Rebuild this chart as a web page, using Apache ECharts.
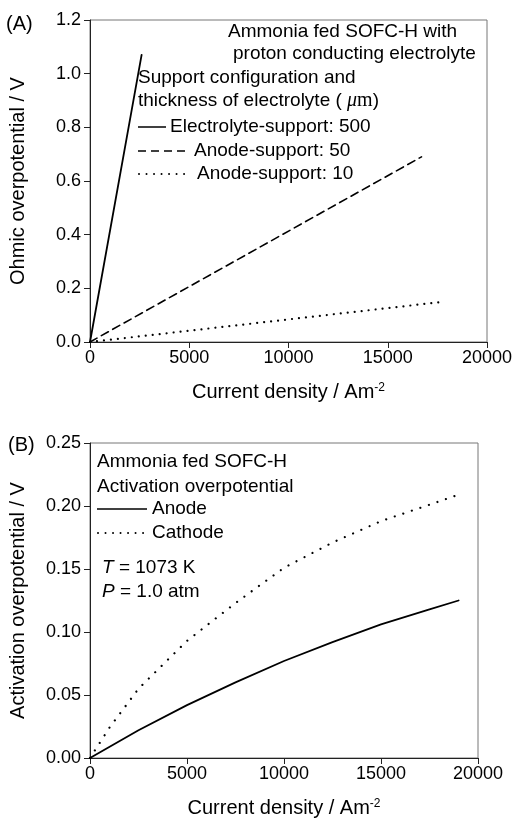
<!DOCTYPE html>
<html>
<head>
<meta charset="utf-8">
<script src="https://cdn.jsdelivr.net/npm/echarts@6/dist/echarts.min.js"></script>
<style>
  html, body { margin: 0; padding: 0; background: #fff; }
  #chart { width: 516px; height: 822px; }
</style>
</head>
<body>
<div id="chart"></div>
<script>
// panel A: ohmic overpotential, straight lines from origin
const ohmicElectrolyte500 = [[0, 0], [2600, 1.07]];
const ohmicAnode50 = [[0, 0], [16700, 0.69]];
const ohmicAnode10 = [[0, 0], [17800, 0.15]];

// panel B: activation overpotential
const actAnode = [[0, 0], [2500, 0.022], [5000, 0.042], [7500, 0.060], [10000, 0.077],
  [12500, 0.092], [15000, 0.106], [17500, 0.118], [19000, 0.125]];
const actCathode = [[0, 0], [1000, 0.024], [2500, 0.055], [5000, 0.093], [7500, 0.123],
  [10000, 0.151], [12500, 0.171], [15000, 0.188], [17500, 0.201], [19000, 0.209]];

const xTicks = [0, 5000, 10000, 15000, 20000];
const yTicksA = [0, 0.2, 0.4, 0.6, 0.8, 1.0, 1.2];
const yTicksB = [0, 0.05, 0.1, 0.15, 0.2, 0.25];

const FONT = 'Liberation Sans, Arial, sans-serif';
const AXIS_COLOR = '#222';
const DOTS = [0.01, 7.5];

const chart = echarts.init(document.getElementById('chart'));

function xAxis(gridIndex) {
  return {
    type: 'value', gridIndex: gridIndex,
    min: xTicks[0], max: xTicks[xTicks.length - 1], interval: xTicks[1] - xTicks[0],
    name: 'Current density / Am{sup|-2}',
    nameLocation: 'middle', nameGap: 40,
    nameTextStyle: {
      fontFamily: FONT, fontSize: 20, color: '#000',
      rich: { sup: { fontFamily: FONT, fontSize: 12, verticalAlign: 'top', color: '#000' } }
    },
    axisLine: { show: true, onZero: false, lineStyle: { color: AXIS_COLOR, width: 1 } },
    axisTick: { show: true, inside: false, length: 6, lineStyle: { color: AXIS_COLOR } },
    axisLabel: { fontFamily: FONT, fontSize: 18, color: '#000', margin: 7, formatter: v => String(v) },
    splitLine: { show: false }
  };
}

function yAxis(gridIndex, ticks, digits, name) {
  return {
    type: 'value', gridIndex: gridIndex,
    min: ticks[0], max: ticks[ticks.length - 1], interval: ticks[1] - ticks[0],
    name: name, nameLocation: 'middle', nameGap: 62,
    nameTextStyle: { fontFamily: FONT, fontSize: 20, color: '#000' },
    axisLine: { show: true, onZero: false, lineStyle: { color: AXIS_COLOR, width: 1 } },
    axisTick: { show: true, inside: false, length: 6, lineStyle: { color: AXIS_COLOR } },
    axisLabel: {
      fontFamily: FONT, fontSize: 18, color: '#000', margin: 9,
      formatter: v => v.toFixed(digits)
    },
    splitLine: { show: false }
  };
}

function line(name, data, xi, type, width) {
  return {
    name: name, type: 'line', data: data,
    xAxisIndex: xi, yAxisIndex: xi,
    symbol: 'none', smooth: false, silent: true,
    lineStyle: { color: '#000', width: width, type: type, cap: 'round' }
  };
}

function txt(x, y, text, extra) {
  return {
    type: 'text', x: x, y: y, silent: true,
    style: Object.assign({
      text: text, fontFamily: FONT, fontSize: 19, fill: '#000',
      textAlign: 'left', textVerticalAlign: 'middle'
    }, extra || {})
  };
}

function seg(x1, x2, y, dash, w) {
  return {
    type: 'line', silent: true,
    shape: { x1: x1, y1: y, x2: x2, y2: y },
    style: { stroke: '#000', lineWidth: w || 1.5, lineDash: dash || null, lineCap: dash === DOTS ? 'round' : 'butt' }
  };
}

const italic = { i: { fontFamily: FONT, fontStyle: 'italic', fontSize: 19, fill: '#000' } };

const option = {
  animation: false,
  backgroundColor: '#fff',
  grid: [
    { left: 90, top: 20, right: 29, height: 322, show: true, borderColor: '#777', borderWidth: 1 },
    { left: 90, top: 443, right: 38, height: 315, show: true, borderColor: '#777', borderWidth: 1 }
  ],
  xAxis: [xAxis(0), xAxis(1)],
  yAxis: [
    yAxis(0, yTicksA, 1, 'Ohmic overpotential / V'),
    yAxis(1, yTicksB, 2, 'Activation overpotential / V')
  ],
  series: [
    line('Electrolyte-support: 500', ohmicElectrolyte500, 0, 'solid', 1.8),
    line('Anode-support: 50', ohmicAnode50, 0, [8, 5], 1.6),
    line('Anode-support: 10', ohmicAnode10, 0, [0.01, 7], 2.2),
    line('Anode', actAnode, 1, 'solid', 1.8),
    line('Cathode', actCathode, 1, [0.01, 9], 2.2)
  ],
  graphic: [
    txt(6, 24, '(A)', { fontSize: 20 }),
    txt(228, 32, 'Ammonia fed SOFC-H with'),
    txt(233, 54, 'proton conducting electrolyte'),
    txt(138, 78, 'Support configuration and'),
    txt(138, 101, 'thickness of electrolyte ( {mu|\u03bc}{m|m})', {
      rich: {
        mu: { fontFamily: 'Liberation Serif, serif', fontStyle: 'italic', fontSize: 20, fill: '#000' },
        m: { fontFamily: 'Liberation Serif, serif', fontSize: 20, fill: '#000' }
      }
    }),
    seg(138, 166, 127),
    txt(170, 127, 'Electrolyte-support: 500'),
    seg(138, 190, 151, [8, 5]),
    txt(194, 151, 'Anode-support: 50'),
    seg(139, 187, 174, DOTS, 2),
    txt(197, 174, 'Anode-support: 10'),

    txt(8, 445, '(B)', { fontSize: 20 }),
    txt(97, 462, 'Ammonia fed SOFC-H'),
    txt(97, 487, 'Activation overpotential'),
    seg(97, 147, 509),
    txt(152, 509, 'Anode'),
    seg(98, 147, 533, DOTS, 2),
    txt(152, 533, 'Cathode'),
    txt(102, 568, '{i|T} = 1073 K', { rich: italic }),
    txt(102, 592, '{i|P} = 1.0 atm', { rich: italic })
  ]
};

chart.setOption(option);
</script>
</body>
</html>
